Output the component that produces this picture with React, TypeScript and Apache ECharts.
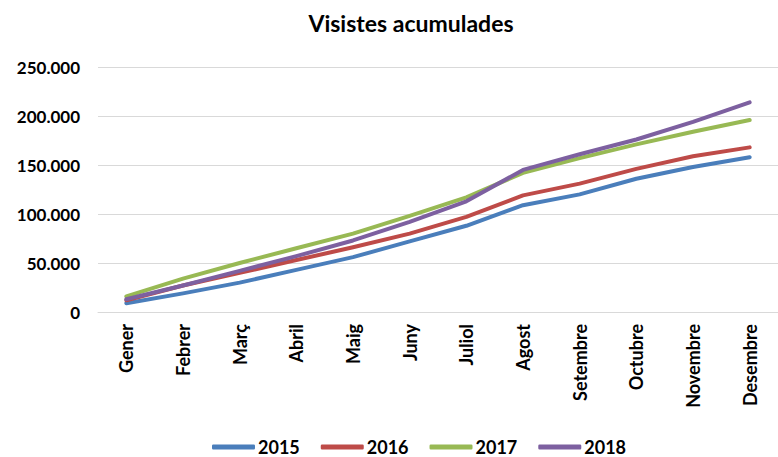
import React, { useEffect, useRef } from "react";
import * as echarts from "echarts";

const months = ["Gener", "Febrer", "Març", "Abril", "Maig", "Juny", "Juliol", "Agost", "Setembre", "Octubre", "Novembre", "Desembre"];
const v2015 = [9000, 19000, 30000, 43000, 56000, 72000, 88000, 109000, 120000, 136000, 148000, 158000];
const v2016 = [12000, 27000, 40000, 53000, 66000, 80000, 97000, 119000, 131000, 146000, 159000, 168000];
const v2017 = [16000, 34000, 50000, 65000, 80000, 98000, 117000, 142000, 157000, 171000, 184000, 196000];
const v2018 = [13000, 27000, 42000, 57000, 73000, 92000, 113000, 145000, 161000, 176000, 194000, 214000];
const yTicks = [0, 50000, 100000, 150000, 200000, 250000];

const FONT = "Lato";

export default function App() {
  const ref = useRef<HTMLDivElement>(null);
  useEffect(() => {
    const chart = echarts.init(ref.current!, null, { renderer: "svg" });
    const mk = (name: string, data: number[], color: string) => ({
      name,
      type: "line",
      data,
      showSymbol: false,
      symbol: "none",
      lineStyle: { width: 4, color, cap: "round", join: "round" },
      itemStyle: { color },
    });
    chart.setOption({
      animation: false,
      title: {
        text: "Visistes acumulades",
        left: 406,
        textAlign: "center",
        top: 6,
        textStyle: { fontFamily: FONT, fontWeight: "bold", fontSize: 23, color: "#000" },
      },
      legend: {
        left: 212,
        top: 438,
        padding: 0,
        icon: "roundRect",
        itemWidth: 43,
        itemHeight: 5,
        itemGap: 21,
        textStyle: { fontFamily: FONT, fontWeight: "bold", fontSize: 18, color: "#000", padding: [0, 0, 0, -2] },
      },
      grid: { left: 98, right: -9, top: 67, bottom: 145 },
      xAxis: {
        type: "category",
        data: months,
        boundaryGap: true,
        axisLine: { lineStyle: { color: "#d9d9d9", width: 1 } },
        axisTick: { show: false },
        axisLabel: {
          rotate: 90,
          interval: 0,
          margin: 12,
          fontFamily: FONT,
          fontWeight: "bold",
          fontSize: 18,
          color: "#000",
        },
      },
      yAxis: {
        type: "value",
        min: yTicks[0],
        max: yTicks[yTicks.length - 1],
        interval: 50000,
        axisLine: { show: false },
        axisTick: { show: false },
        splitLine: { lineStyle: { color: "#d9d9d9", width: 1 } },
        axisLabel: {
          margin: 18,
          fontFamily: FONT,
          fontWeight: "bold",
          fontSize: 17,
          color: "#000",
          formatter: (v: number) => v.toLocaleString("de-DE"),
        },
      },
      series: [
        mk("2015", v2015, "#4a7ebb"),
        mk("2016", v2016, "#be4b48"),
        mk("2017", v2017, "#98b954"),
        mk("2018", v2018, "#7d60a0"),
      ],
    });
    return () => chart.dispose();
  }, []);
  return <div ref={ref} style={{ position: "absolute", left: 0, top: 0, width: 778, height: 457 }} />;
}
